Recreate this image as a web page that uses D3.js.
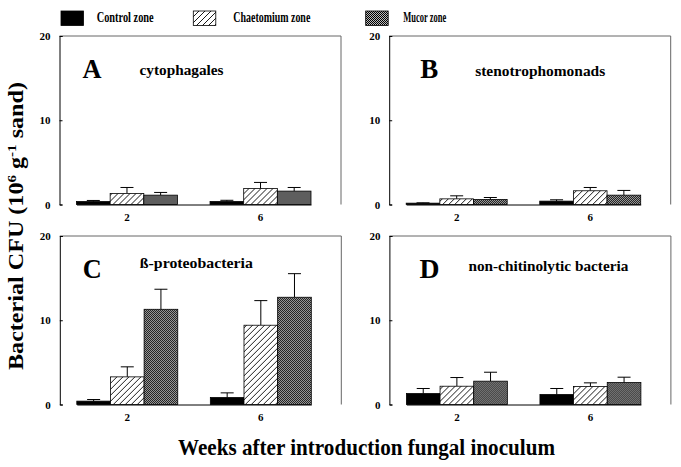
<!DOCTYPE html>
<html>
<head>
<meta charset="utf-8">
<script src="https://cdn.jsdelivr.net/npm/d3@7"></script>
<style>
  html, body { margin: 0; padding: 0; background: #fff; }
  svg { display: block; }
  text { font-family: "Liberation Serif", "Times New Roman", serif; font-weight: bold; fill: #000; }
</style>
</head>
<body>
<svg id="chart" width="681" height="467"></svg>
<script>
// ---- data ----
const weeks = ["2", "6"];
const zones = ["Control zone", "Chaetomium zone", "Mucor zone"];
const panelLetters = ["A", "B", "C", "D"];
const panelTitles = ["cytophagales", "stenotrophomonads", "ß-proteobacteria", "non-chitinolytic bacteria"];
const yTicks = [0, 10, 20];
// means [week][zone]
const meanA = [[0.35, 1.31, 1.11], [0.36, 1.90, 1.59]];
const meanB = [[0.16, 0.67, 0.60], [0.40, 1.63, 1.11]];
const meanC = [[0.40, 3.28, 11.30], [0.83, 9.41, 12.73]];
const meanD = [[1.30, 2.17, 2.77], [1.19, 2.13, 2.61]];
// upper error (SE) [week][zone]
const errA = [[0.13, 0.71, 0.32], [0.14, 0.72, 0.43]];
const errB = [[0.04, 0.36, 0.23], [0.16, 0.39, 0.56]];
const errC = [[0.19, 1.19, 2.38], [0.55, 2.92, 2.80]];
const errD = [[0.60, 1.03, 1.06], [0.71, 0.44, 0.63]];

const means = [meanA, meanB, meanC, meanD];
const errs = [errA, errB, errC, errD];

// ---- layout ----
const svg = d3.select("#chart");
const PW = 281.5, PH = 168.5;
const lefts = [59.5, 389.2, 59.8, 389.4];
const tops = [36, 36, 236, 236];

// patterns
const defs = svg.append("defs");
const hatch = defs.append("pattern").attr("id", "hatch")
  .attr("patternUnits", "userSpaceOnUse").attr("width", 6).attr("height", 6);
hatch.append("rect").attr("width", 6).attr("height", 6).attr("fill", "#fff");
hatch.append("path").attr("d", "M0,6 L6,0 M-1.5,1.5 L1.5,-1.5 M4.5,7.5 L7.5,4.5")
  .attr("stroke", "#000").attr("stroke-width", 0.9);
const dots = defs.append("pattern").attr("id", "dots")
  .attr("patternUnits", "userSpaceOnUse").attr("width", 2).attr("height", 2);
dots.append("rect").attr("width", 2).attr("height", 2).attr("fill", "#bbb");
dots.append("rect").attr("width", 1).attr("height", 1).attr("fill", "#000");
dots.append("rect").attr("x", 1).attr("y", 1).attr("width", 1).attr("height", 1).attr("fill", "#000");
const fills = ["#000", "url(#hatch)", "url(#dots)"];

const x0 = d3.scaleBand().domain(weeks).range([17, 251.5]).paddingInner(0.244);
const x1 = d3.scaleBand().domain(zones).range([0, x0.bandwidth()]);
const y = d3.scaleLinear().domain([0, 20]).range([PH, 0]);

const letterW = [19, 18, 19, 20];
const letterDx = [23, 31, 23, 30];
const titleDx = [80, 86, 80, 79];
const titleW = [84, 130, 113, 160];
const titleDy = [39, 40, 32, 35];

panelLetters.forEach((L, p) => {
  const g = svg.append("g").attr("transform", `translate(${lefts[p]},${tops[p]})`);
  // frame top/right
  g.append("path").attr("d", `M0,0 H${PW} V${PH}`).attr("fill", "none")
    .attr("stroke", "#666").attr("stroke-width", 1);
  // bars
  const data = [];
  weeks.forEach((w, wi) => zones.forEach((z, zi) => data.push({ w, z, zi, v: means[p][wi][zi], e: errs[p][wi][zi] })));
  const bw = x1.bandwidth();
  // error bars (upper)
  g.selectAll(".err").data(data).enter().append("path")
    .attr("d", d => {
      const cx = x0(d.w) + x1(d.z) + bw / 2;
      return `M${cx},${y(d.v)} V${y(d.v + d.e)} M${cx - 6.5},${y(d.v + d.e)} H${cx + 6.5}`;
    })
    .attr("stroke", "#000").attr("stroke-width", 1).attr("fill", "none");
  g.selectAll(".bar").data(data).enter().append("rect")
    .attr("x", d => x0(d.w) + x1(d.z))
    .attr("y", d => y(d.v))
    .attr("width", bw)
    .attr("height", d => y(0) - y(d.v))
    .attr("fill", d => fills[d.zi])
    .attr("stroke", "#000").attr("stroke-width", 0.8);
  // axes
  const ya = g.append("g").call(d3.axisLeft(y).tickValues(yTicks).tickSize(-3).tickPadding(9).tickFormat(d3.format("d")));
  ya.select(".domain").attr("stroke", "#000");
  ya.selectAll("text").style("font-size", "11px");
  ya.selectAll(".tick line").attr("stroke", "#000");
  const xa = g.append("g").attr("transform", `translate(0,${PH})`).call(d3.axisBottom(x0).tickSize(0).tickPadding(9));
  xa.select(".domain").attr("stroke", "#000");
  xa.selectAll("text").style("font-size", "11px");
  // labels
  g.append("text").attr("x", letterDx[p]).attr("y", 41.7)
    .style("font-size", "27px").attr("textLength", letterW[p]).attr("lengthAdjust", "spacingAndGlyphs").text(L);
  g.append("text").attr("x", titleDx[p]).attr("y", titleDy[p])
    .style("font-size", "15.5px").attr("textLength", titleW[p]).attr("lengthAdjust", "spacingAndGlyphs").text(panelTitles[p]);
});

// legend
const legX = [61, 193.3, 365.7];
const legTX = [96.7, 233.3, 403.3];
const legTW = [57, 77, 43];
zones.forEach((z, i) => {
  svg.append("rect").attr("x", legX[i]).attr("y", 11).attr("width", 22.5).attr("height", 14.5)
    .attr("fill", fills[i]).attr("stroke", "#000").attr("stroke-width", 0.8);
  svg.append("text").attr("x", legTX[i]).attr("y", 21.5).style("font-size", "14px")
    .attr("textLength", legTW[i]).attr("lengthAdjust", "spacingAndGlyphs").text(z);
});

// axis titles
svg.append("text").attr("x", 366.5).attr("y", 455).attr("text-anchor", "middle")
  .style("font-size", "23px").attr("textLength", 377).attr("lengthAdjust", "spacingAndGlyphs")
  .text("Weeks after introduction fungal inoculum");

const yt = svg.append("text").attr("transform", "translate(23,226) rotate(-90)")
  .attr("text-anchor", "middle").style("font-size", "20px")
  .attr("textLength", 288).attr("lengthAdjust", "spacingAndGlyphs");
yt.append("tspan").text("Bacterial CFU (10");
yt.append("tspan").attr("dy", -7).style("font-size", "12.5px").text("6");
yt.append("tspan").attr("dy", 7).text(" g");
yt.append("tspan").attr("dy", -7).style("font-size", "12.5px").text("-1");
yt.append("tspan").attr("dy", 7).text(" sand)");
</script>
</body>
</html>
